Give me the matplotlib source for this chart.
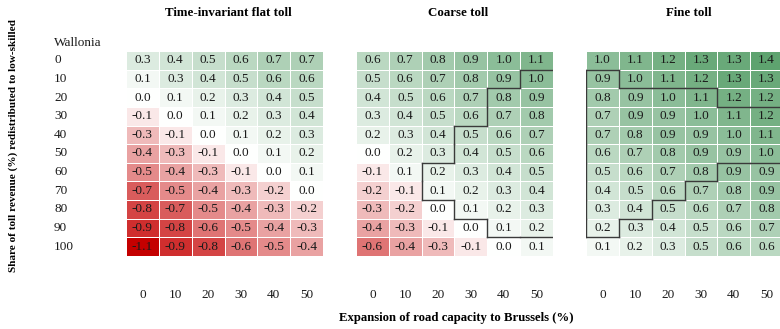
import matplotlib
matplotlib.use("Agg")
import matplotlib.pyplot as plt
import numpy as np
from matplotlib.colors import LinearSegmentedColormap, TwoSlopeNorm

plt.rcParams['font.family'] = ['Liberation Serif', 'DejaVu Serif']

shares = ['0', '10', '20', '30', '40', '50', '60', '70', '80', '90', '100']
expansion = ['0', '10', '20', '30', '40', '50']
titles = ['Time-invariant flat toll', 'Coarse toll', 'Fine toll']

flat_toll = [
    [0.3, 0.4, 0.5, 0.6, 0.7, 0.7],
    [0.1, 0.3, 0.4, 0.5, 0.6, 0.6],
    [0.0, 0.1, 0.2, 0.3, 0.4, 0.5],
    [-0.1, 0.0, 0.1, 0.2, 0.3, 0.4],
    [-0.3, -0.1, 0.0, 0.1, 0.2, 0.3],
    [-0.4, -0.3, -0.1, 0.0, 0.1, 0.2],
    [-0.5, -0.4, -0.3, -0.1, 0.0, 0.1],
    [-0.7, -0.5, -0.4, -0.3, -0.2, 0.0],
    [-0.8, -0.7, -0.5, -0.4, -0.3, -0.2],
    [-0.9, -0.8, -0.6, -0.5, -0.4, -0.3],
    [-1.1, -0.9, -0.8, -0.6, -0.5, -0.4],
]
coarse_toll = [
    [0.6, 0.7, 0.8, 0.9, 1.0, 1.1],
    [0.5, 0.6, 0.7, 0.8, 0.9, 1.0],
    [0.4, 0.5, 0.6, 0.7, 0.8, 0.9],
    [0.3, 0.4, 0.5, 0.6, 0.7, 0.8],
    [0.2, 0.3, 0.4, 0.5, 0.6, 0.7],
    [0.0, 0.2, 0.3, 0.4, 0.5, 0.6],
    [-0.1, 0.1, 0.2, 0.3, 0.4, 0.5],
    [-0.2, -0.1, 0.1, 0.2, 0.3, 0.4],
    [-0.3, -0.2, 0.0, 0.1, 0.2, 0.3],
    [-0.4, -0.3, -0.1, 0.0, 0.1, 0.2],
    [-0.6, -0.4, -0.3, -0.1, 0.0, 0.1],
]
fine_toll = [
    [1.0, 1.1, 1.2, 1.3, 1.3, 1.4],
    [0.9, 1.0, 1.1, 1.2, 1.3, 1.3],
    [0.8, 0.9, 1.0, 1.1, 1.2, 1.2],
    [0.7, 0.9, 0.9, 1.0, 1.1, 1.2],
    [0.7, 0.8, 0.9, 0.9, 1.0, 1.1],
    [0.6, 0.7, 0.8, 0.9, 0.9, 1.0],
    [0.5, 0.6, 0.7, 0.8, 0.9, 0.9],
    [0.4, 0.5, 0.6, 0.7, 0.8, 0.9],
    [0.3, 0.4, 0.5, 0.6, 0.7, 0.8],
    [0.2, 0.3, 0.4, 0.5, 0.6, 0.7],
    [0.1, 0.2, 0.3, 0.5, 0.6, 0.6],
]

# outlined block: first and last row per column (None = no block)
coarse_top = [None, None, 6, 4, 2, 1]
coarse_bottom = [None, None, 7, 8, 9, 9]
fine_top = [1, 2, 2, 2, 3, 3]
fine_bottom = [9, 8, 7, 6, 5, 5]

panels = [
    (flat_toll, None, None),
    (coarse_toll, coarse_top, coarse_bottom),
    (fine_toll, fine_top, fine_bottom),
]

cmap = LinearSegmentedColormap.from_list('rw_g', ['#c40000', '#ffffff', '#5ea36f'])
norm = TwoSlopeNorm(vmin=-1.1, vcenter=0.0, vmax=1.4)

W, H = 780, 329
fig = plt.figure(figsize=(W / 100, H / 100), dpi=100)

lefts = [126, 356, 586]
top_px, cell_w, cell_h = 51, 197 / 6, 205 / 11
txt = '#1a1a1a'


def outline(ax, top, bottom):
    n_rows, n_cols = len(shares), len(expansion)
    inside = np.zeros((n_rows, n_cols), dtype=bool)
    for j in range(n_cols):
        if top[j] is not None:
            inside[top[j]:bottom[j] + 1, j] = True
    segs = []
    for i in range(n_rows):
        for j in range(n_cols):
            if not inside[i, j]:
                continue
            if i == 0 or not inside[i - 1, j]:
                segs.append(([j, j + 1], [i, i]))
            if i == n_rows - 1 or not inside[i + 1, j]:
                segs.append(([j, j + 1], [i + 1, i + 1]))
            if j == 0 or not inside[i, j - 1]:
                segs.append(([j, j], [i, i + 1]))
            if j < n_cols - 1 and not inside[i, j + 1]:
                segs.append(([j + 1, j + 1], [i, i + 1]))
    for xs, ys in segs:
        ax.plot(xs, ys, color='#3a3a3a', lw=1.0, solid_capstyle='projecting')


for k, (vals, top, bottom) in enumerate(panels):
    z = np.array(vals)
    ax = fig.add_axes([lefts[k] / W, 1 - (top_px + 11 * cell_h) / H,
                       6 * cell_w / W, 11 * cell_h / H])
    ax.pcolormesh(np.arange(7), np.arange(12), z, cmap=cmap, norm=norm,
                  edgecolors='white', linewidth=0.5)
    ax.set_xlim(0, 6)
    ax.set_ylim(11, 0)
    ax.axis('off')
    for i in range(z.shape[0]):
        for j in range(z.shape[1]):
            ax.text(j + 0.5, i + 0.5, f'{z[i, j]:.1f}', ha='center', va='center',
                    fontsize=9.5, color=txt)
    for j, lab in enumerate(expansion):
        ax.text(j + 0.5, 13.1, lab, ha='center', va='center', fontsize=9.5,
                color=txt, clip_on=False)
    ax.text(3.12, -2.05, titles[k], ha='center', va='center', fontsize=9.3,
            fontweight='bold', clip_on=False)
    if top is not None:
        outline(ax, top, bottom)
    if k == 0:
        tr = ax.get_yaxis_transform()
        ax.text(-0.365, -0.45, 'Wallonia', transform=tr, ha='left', va='center',
                fontsize=9.5, color=txt)
        for i, lab in enumerate(shares):
            ax.text(-0.365, i + 0.5, lab, transform=tr, ha='left', va='center',
                    fontsize=9.5, color=txt)

fig.text(13 / W, 1 - 145 / H, 'Share of toll revenue (%) redistributed to low-skilled',
         rotation=90, ha='center', va='center', fontsize=8.1, fontweight='bold')
fig.text(456 / W, 1 - 318 / H, 'Expansion of road capacity to Brussels (%)',
         ha='center', va='center', fontsize=9.2, fontweight='bold')

fig.savefig('out.png', dpi=100)
